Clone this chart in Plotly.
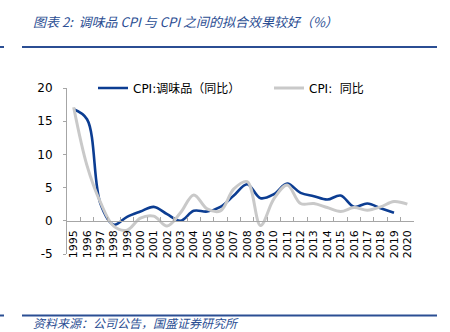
import plotly.graph_objects as go

years = [str(y) for y in range(1995, 2021)]
seasoning_cpi = [16.8, 15.3, 2.6, -0.6, 0.6, 1.4, 2.1, 1.0, 0.0, 1.5, 1.4, 2.1, 3.8, 5.5,
                 3.4, 4.0, 5.6, 4.2, 3.7, 3.2, 3.8, 2.1, 2.6, 1.9, 1.2, None]
cpi = [17.1, 8.3, 2.8, -0.8, -1.4, 0.4, 0.7, -0.8, 1.2, 3.9, 1.8, 1.5, 4.8, 5.9,
       -0.7, 3.3, 5.4, 2.6, 2.6, 2.0, 1.4, 2.0, 1.6, 2.1, 2.9, 2.5]
y_ticks = [-5, 0, 5, 10, 15, 20]
y_tick_text = ["-5", "0", "5", "10", "15", "20"]

W, H = 450, 332
ML, MR, MT, MB = 67, 36, 88, 78
PW, PH = W - ML - MR, H - MT - MB


def px_x(px):
    return (px - ML) / PW


def px_y(py):
    return (H - MB - py) / PH


BLUE = "#0C3D92"
GREY = "#C9C9C9"
HEAD = "#2B4E93"
AXIS = "#A6A6A6"
FONT = "DejaVu Sans, Noto Sans CJK SC"

fig = go.Figure()
fig.add_trace(go.Scatter(
    x=years, y=seasoning_cpi, name="CPI:调味品（同比）", mode="lines",
    line=dict(color=BLUE, width=2.6, shape="spline", smoothing=1.0),
    legend="legend",
))
fig.add_trace(go.Scatter(
    x=years, y=cpi, name="CPI:  同比", mode="lines",
    line=dict(color=GREY, width=3, shape="spline", smoothing=1.0),
    legend="legend2",
))

legend_style = dict(
    orientation="h", yanchor="middle", xanchor="left",
    font=dict(family=FONT, size=12, color="#000000"),
    bgcolor="rgba(0,0,0,0)", itemclick=False, itemdoubleclick=False,
)

fig.update_layout(
    width=W, height=H,
    margin=dict(l=ML, r=MR, t=MT, b=MB),
    paper_bgcolor="white", plot_bgcolor="white",
    font=dict(family=FONT, size=12, color="#000000"),
    showlegend=True,
    legend=dict(x=px_x(93), y=px_y(88), **legend_style),
    legend2=dict(x=px_x(269), y=px_y(88), **legend_style),
    xaxis=dict(
        type="category", range=[-0.5, 25.5],
        anchor="free", position=0.2,
        showline=True, linecolor=AXIS, linewidth=1,
        ticks="inside", ticklen=4, tickcolor=AXIS, tickson="boundaries",
        tickangle=-90, tickfont=dict(family=FONT, size=11, color="#000000"),
        ticklabelstandoff=4,
        showgrid=False, zeroline=False,
    ),
    yaxis=dict(
        range=[-5, 20], tickvals=y_ticks, ticktext=y_tick_text,
        showline=True, linecolor=AXIS, linewidth=1,
        ticks="outside", ticklen=3, tickcolor=AXIS,
        ticklabelstandoff=8,
        tickfont=dict(family=FONT, size=12, color="#000000"),
        showgrid=False, zeroline=False,
    ),
)

# Header and footer rules
for y_rule in (47, 315.5):
    fig.add_shape(type="line", xref="paper", yref="paper",
                  x0=px_x(22), x1=px_x(437), y0=px_y(y_rule), y1=px_y(y_rule),
                  line=dict(color=HEAD, width=2))
    fig.add_shape(type="line", xref="paper", yref="paper",
                  x0=px_x(0), x1=px_x(4), y0=px_y(y_rule), y1=px_y(y_rule),
                  line=dict(color=HEAD, width=2))

fig.add_annotation(
    text="<i>图表 2:  调味品 CPI 与 CPI 之间的拟合效果较好（%）</i>",
    xref="paper", yref="paper", x=px_x(31), y=px_y(22),
    xanchor="left", yanchor="middle", showarrow=False,
    font=dict(family="Noto Sans CJK SC", size=13, color=HEAD),
)
fig.add_annotation(
    text="<i>资料来源：公司公告，国盛证券研究所</i>",
    xref="paper", yref="paper", x=px_x(31), y=px_y(322.5),
    xanchor="left", yanchor="middle", showarrow=False,
    font=dict(family="Noto Sans CJK SC", size=12, color=HEAD),
)

fig.write_html("out.html")
